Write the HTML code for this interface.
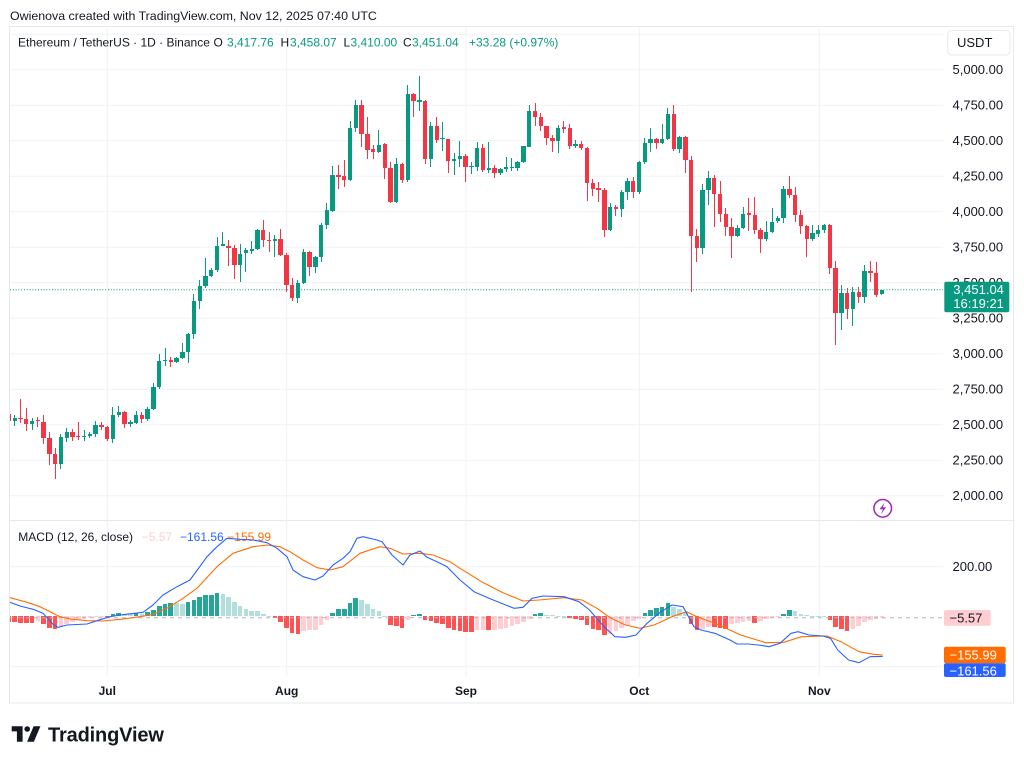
<!DOCTYPE html>
<html>
<head>
<meta charset="utf-8">
<style>
html,body{margin:0;padding:0;background:#fff;}
body{position:relative;width:1024px;height:763px;overflow:hidden;}
svg{display:block;font-family:"Liberation Sans",Arial,sans-serif;position:absolute;left:0;top:0;}
.clip{position:absolute;overflow:hidden;}
.row{position:absolute;top:0;display:flex;}
.row i{position:relative;flex:none;width:5.787px;height:100%;display:block;}
.cd i::before{content:"";position:absolute;left:calc(50% - 0.5px);width:1px;top:calc(var(--h)*1px);height:calc((var(--l) - var(--h))*1px);background:currentColor;}
.cd i::after{content:"";position:absolute;left:calc(50% - 2.2px);width:4.4px;top:calc(var(--t)*1px);height:max(1px,calc((var(--b) - var(--t))*1px));background:currentColor;}
.g{color:#089981}.r{color:#f23645}
.hs i::after{content:"";position:absolute;left:calc(50% - 2.3px);width:4.6px;top:calc(min(616.3, 616.3 - var(--v))*1px);height:calc(max(0.6, max(var(--v), -1 * var(--v)))*1px);background:currentColor;}
.D{color:#26a69a}.L{color:#b2dfdb}.R{color:#ff5252}.P{color:#ffcdd2}
</style>
</head>
<body>
<svg width="1024" height="763" viewBox="0 0 1024 763" xmlns="http://www.w3.org/2000/svg">
<rect width="1024" height="763" fill="#fff"/>
<text x="10" y="20" font-size="12.4" fill="#131722">Owienova created with TradingView.com, Nov 12, 2025 07:40 UTC</text>
<rect x="9.5" y="26.5" width="1004" height="676.5" fill="none" stroke="#e6e8ed"/>
<line x1="10" y1="520.5" x2="1013.5" y2="520.5" stroke="#e6e8ed"/>
<g stroke="#f1f2f5" stroke-width="1">
<line x1="10" x2="943" y1="34.2" y2="34.2"/>
<line x1="10" x2="943" y1="69.7" y2="69.7"/>
<line x1="10" x2="943" y1="105.2" y2="105.2"/>
<line x1="10" x2="943" y1="140.7" y2="140.7"/>
<line x1="10" x2="943" y1="176.2" y2="176.2"/>
<line x1="10" x2="943" y1="211.7" y2="211.7"/>
<line x1="10" x2="943" y1="247.2" y2="247.2"/>
<line x1="10" x2="943" y1="282.7" y2="282.7"/>
<line x1="10" x2="943" y1="318.2" y2="318.2"/>
<line x1="10" x2="943" y1="353.7" y2="353.7"/>
<line x1="10" x2="943" y1="389.2" y2="389.2"/>
<line x1="10" x2="943" y1="424.7" y2="424.7"/>
<line x1="10" x2="943" y1="460.2" y2="460.2"/>
<line x1="10" x2="943" y1="495.7" y2="495.7"/>
<line x1="10" x2="943" y1="566.7" y2="566.7"/>
<line x1="10" x2="943" y1="666.7" y2="666.7"/>
<line x1="107.3" x2="107.3" y1="27" y2="677"/>
<line x1="286.7" x2="286.7" y1="27" y2="677"/>
<line x1="466" x2="466" y1="27" y2="677"/>
<line x1="639.3" x2="639.3" y1="27" y2="677"/>
<line x1="819.3" x2="819.3" y1="27" y2="677"/>
</g>
<circle cx="882.7" cy="508.3" r="8.8" fill="#fff" stroke="#9c27b0" stroke-width="1.5"/>
<path d="M884.6,502.6 L879.6,509.2 H882.9 L881,514.2 L886,507.4 H882.7 Z" fill="#9c27b0"/>
<g font-size="12" fill="#131722">
<text x="18" y="46.5">Ethereum / TetherUS · 1D · Binance</text>
<text x="213.5" y="46.5">O</text>
<text x="227" y="46.5" fill="#089981">3,417.76</text>
<text x="280.5" y="46.5">H</text>
<text x="290" y="46.5" fill="#089981">3,458.07</text>
<text x="343.5" y="46.5">L</text>
<text x="350.5" y="46.5" fill="#089981">3,410.00</text>
<text x="403" y="46.5">C</text>
<text x="412" y="46.5" fill="#089981">3,451.04</text>
<text x="469" y="46.5" fill="#089981">+33.28 (+0.97%)</text>
</g>
<g font-size="12">
<text x="18.3" y="541" fill="#131722">MACD (12, 26, close)</text>
<text x="141.7" y="541" fill="#ffcdd2">−5.57</text>
<text x="180" y="541" fill="#2962ff">−161.56</text>
<text x="227.3" y="541" fill="#ff6d00">−155.99</text>
</g>
<rect x="947.7" y="30.5" width="62.3" height="24.5" rx="4" fill="#fff" stroke="#e6e8ed"/>
<text x="957" y="47" font-size="13" fill="#131722">USDT</text>
<g font-size="13" fill="#131722">
<text x="952.5" y="74.2">5,000.00</text>
<text x="952.5" y="109.7">4,750.00</text>
<text x="952.5" y="145.2">4,500.00</text>
<text x="952.5" y="180.7">4,250.00</text>
<text x="952.5" y="216.2">4,000.00</text>
<text x="952.5" y="251.7">3,750.00</text>
<text x="952.5" y="287.2">3,500.00</text>
<text x="952.5" y="322.7">3,250.00</text>
<text x="952.5" y="358.2">3,000.00</text>
<text x="952.5" y="393.7">2,750.00</text>
<text x="952.5" y="429.2">2,500.00</text>
<text x="952.5" y="464.7">2,250.00</text>
<text x="952.5" y="500.2">2,000.00</text>
<text x="952.5" y="571.2">200.00</text>
</g>
<rect x="944.3" y="281.7" width="65" height="30.6" rx="2" fill="#089981"/>
<text x="953.3" y="293.8" font-size="13" fill="#fff">3,451.04</text>
<text x="953.3" y="307.8" font-size="13" fill="#fff">16:19:21</text>
<rect x="944" y="610" width="46.7" height="15.7" rx="2" fill="#ffcdd2"/>
<text x="949.5" y="622.3" font-size="13" fill="#131722">−5.57</text>
<rect x="944" y="646.7" width="61.7" height="16.6" rx="2" fill="#ff6d00"/>
<text x="949.5" y="659.6" font-size="13" fill="#fff">−155.99</text>
<rect x="944" y="663.3" width="61.7" height="13.7" rx="2" fill="#2962ff"/>
<text x="949.5" y="675.5" font-size="13" fill="#fff">−161.56</text>
<g font-size="12" font-weight="bold" fill="#131722" text-anchor="middle">
<text x="107.3" y="695">Jul</text>
<text x="286.7" y="695">Aug</text>
<text x="466" y="695">Sep</text>
<text x="639.3" y="695">Oct</text>
<text x="819.3" y="695">Nov</text>
</g>
<path d="M11.7,726.2 H22.6 V741.8 H16.9 V731.4 H11.7 Z" fill="#131722"/>
<circle cx="27.2" cy="729" r="2.8" fill="#131722"/>
<path d="M33.6,726.2 H40.4 L33.9,741.8 H27.1 Z" fill="#131722"/>
<text x="48" y="741.5" font-size="20" font-weight="bold" letter-spacing="-0.15" fill="#131722">TradingView</text>
</svg>

<!-- candles -->
<div class="clip" style="left:10px;top:0;width:933px;height:520px;">
<div class="row cd" style="left:-3.973px;height:520px;">
<i class="r" style="--t:413.5;--b:421;--h:412;--l:423"></i>
<i class="g" style="--t:418.3;--b:420.7;--h:415;--l:426"></i>
<i class="r" style="--t:417.7;--b:418.7;--h:399;--l:422.7"></i>
<i class="r" style="--t:419;--b:424;--h:408;--l:431"></i>
<i class="g" style="--t:421;--b:423.7;--h:417.7;--l:430"></i>
<i class="r" style="--t:420;--b:421.3;--h:416.7;--l:426.7"></i>
<i class="r" style="--t:421.7;--b:438.3;--h:415.3;--l:443.7"></i>
<i class="r" style="--t:438;--b:454;--h:432.3;--l:465"></i>
<i class="r" style="--t:454;--b:464;--h:448.3;--l:479.3"></i>
<i class="g" style="--t:437.3;--b:464;--h:434;--l:469.3"></i>
<i class="g" style="--t:432.3;--b:437.7;--h:428.3;--l:442.3"></i>
<i class="r" style="--t:432.3;--b:436.7;--h:429.3;--l:440.7"></i>
<i class="r" style="--t:435.7;--b:437;--h:421.7;--l:440"></i>
<i class="g" style="--t:436;--b:437.3;--h:430;--l:441"></i>
<i class="g" style="--t:434;--b:436;--h:432.3;--l:438.3"></i>
<i class="g" style="--t:425;--b:434;--h:420.7;--l:437.3"></i>
<i class="r" style="--t:425;--b:427.3;--h:421.7;--l:430"></i>
<i class="r" style="--t:427.3;--b:439;--h:425.7;--l:440.7"></i>
<i class="g" style="--t:415;--b:439;--h:407.3;--l:442.7"></i>
<i class="g" style="--t:412;--b:415.3;--h:406;--l:417.3"></i>
<i class="r" style="--t:412;--b:423.7;--h:410.7;--l:428.3"></i>
<i class="g" style="--t:421.7;--b:423.7;--h:420;--l:426.7"></i>
<i class="g" style="--t:415;--b:422.7;--h:410.7;--l:424.3"></i>
<i class="r" style="--t:415;--b:419;--h:412.3;--l:422.7"></i>
<i class="g" style="--t:408.7;--b:419;--h:406.7;--l:421"></i>
<i class="g" style="--t:387.3;--b:408.7;--h:383.3;--l:410"></i>
<i class="g" style="--t:361;--b:387.3;--h:354.3;--l:389"></i>
<i class="g" style="--t:359.7;--b:361.3;--h:348.3;--l:365.7"></i>
<i class="r" style="--t:360;--b:362;--h:357.3;--l:367.3"></i>
<i class="g" style="--t:358;--b:362;--h:356.7;--l:362.7"></i>
<i class="g" style="--t:352.3;--b:358;--h:342.7;--l:359.3"></i>
<i class="g" style="--t:334.3;--b:352.3;--h:332.7;--l:363.3"></i>
<i class="g" style="--t:301.3;--b:334.3;--h:294;--l:339.3"></i>
<i class="g" style="--t:286.3;--b:301.3;--h:280;--l:309.3"></i>
<i class="g" style="--t:276.3;--b:286.3;--h:258;--l:288.3"></i>
<i class="g" style="--t:270;--b:276.3;--h:267.7;--l:277.3"></i>
<i class="g" style="--t:246.3;--b:270;--h:236.7;--l:271.7"></i>
<i class="g" style="--t:244.3;--b:245.7;--h:231.7;--l:245.7"></i>
<i class="r" style="--t:245.7;--b:247.7;--h:240.3;--l:266"></i>
<i class="r" style="--t:247.7;--b:264.7;--h:245.3;--l:279.3"></i>
<i class="g" style="--t:253.7;--b:264.7;--h:243.7;--l:282.3"></i>
<i class="g" style="--t:250.3;--b:253.3;--h:248.3;--l:271.7"></i>
<i class="g" style="--t:249;--b:250.7;--h:241.3;--l:254"></i>
<i class="g" style="--t:230;--b:249.3;--h:229.3;--l:250"></i>
<i class="r" style="--t:230;--b:240;--h:220.3;--l:246.7"></i>
<i class="r" style="--t:239.7;--b:241;--h:231.7;--l:251.7"></i>
<i class="g" style="--t:239.3;--b:241.3;--h:235;--l:257.3"></i>
<i class="r" style="--t:239;--b:255;--h:229.3;--l:255.7"></i>
<i class="r" style="--t:255;--b:285;--h:253.3;--l:291.7"></i>
<i class="r" style="--t:285;--b:297.7;--h:278.3;--l:301"></i>
<i class="g" style="--t:283.3;--b:297.7;--h:280;--l:303.3"></i>
<i class="g" style="--t:251.7;--b:283.3;--h:249;--l:284"></i>
<i class="r" style="--t:251.7;--b:267;--h:251;--l:275.7"></i>
<i class="g" style="--t:257.3;--b:267;--h:256;--l:273"></i>
<i class="g" style="--t:225;--b:257.3;--h:222.7;--l:261.7"></i>
<i class="g" style="--t:210.3;--b:225;--h:202.7;--l:228.7"></i>
<i class="g" style="--t:175;--b:210.7;--h:166;--l:211.7"></i>
<i class="r" style="--t:175;--b:176.7;--h:165;--l:189.3"></i>
<i class="r" style="--t:176;--b:180;--h:160;--l:187.3"></i>
<i class="g" style="--t:128.3;--b:180;--h:121;--l:180.7"></i>
<i class="g" style="--t:105;--b:128.3;--h:100;--l:131.7"></i>
<i class="r" style="--t:105;--b:134;--h:100;--l:147.3"></i>
<i class="r" style="--t:134;--b:150;--h:116.7;--l:159.3"></i>
<i class="r" style="--t:149.3;--b:151.7;--h:145;--l:159"></i>
<i class="g" style="--t:144.7;--b:151.7;--h:130;--l:153.3"></i>
<i class="r" style="--t:144.3;--b:167.7;--h:143.3;--l:179.3"></i>
<i class="r" style="--t:167.7;--b:201.7;--h:161.7;--l:202.7"></i>
<i class="g" style="--t:164.3;--b:201.7;--h:158.3;--l:203.3"></i>
<i class="r" style="--t:164.3;--b:180;--h:163.3;--l:182.7"></i>
<i class="g" style="--t:94;--b:180;--h:85;--l:181.7"></i>
<i class="r" style="--t:94;--b:101;--h:93.3;--l:117.3"></i>
<i class="g" style="--t:100.3;--b:101.7;--h:76;--l:110.7"></i>
<i class="r" style="--t:101.3;--b:158.7;--h:100;--l:164"></i>
<i class="g" style="--t:126.3;--b:158.7;--h:121.7;--l:167.3"></i>
<i class="r" style="--t:126.3;--b:140.3;--h:117.3;--l:143.3"></i>
<i class="g" style="--t:138.3;--b:139.3;--h:121.7;--l:150.7"></i>
<i class="r" style="--t:139;--b:160.7;--h:138.7;--l:173.3"></i>
<i class="g" style="--t:159;--b:160.7;--h:153.3;--l:175"></i>
<i class="g" style="--t:156.3;--b:159;--h:141;--l:166.7"></i>
<i class="r" style="--t:156.3;--b:167.3;--h:154;--l:181.7"></i>
<i class="g" style="--t:166;--b:167.3;--h:161.7;--l:174.3"></i>
<i class="g" style="--t:148;--b:166.7;--h:142;--l:171"></i>
<i class="r" style="--t:148;--b:170;--h:144;--l:171.7"></i>
<i class="g" style="--t:167.7;--b:169.7;--h:142;--l:173.3"></i>
<i class="r" style="--t:168;--b:173.3;--h:165;--l:178.3"></i>
<i class="g" style="--t:169;--b:173.3;--h:168.3;--l:175"></i>
<i class="g" style="--t:167.3;--b:168.7;--h:157.3;--l:171.7"></i>
<i class="g" style="--t:166.7;--b:168.3;--h:157.7;--l:171"></i>
<i class="g" style="--t:162.3;--b:167.7;--h:161;--l:171"></i>
<i class="g" style="--t:146.3;--b:162.3;--h:146;--l:162.7"></i>
<i class="g" style="--t:110.7;--b:146.7;--h:105;--l:147.3"></i>
<i class="r" style="--t:110.7;--b:116.7;--h:102.7;--l:126"></i>
<i class="r" style="--t:116.7;--b:126;--h:113.3;--l:130.7"></i>
<i class="r" style="--t:126;--b:137.7;--h:125.7;--l:145"></i>
<i class="r" style="--t:137.7;--b:141;--h:135;--l:151.7"></i>
<i class="g" style="--t:128;--b:141;--h:125;--l:153.3"></i>
<i class="r" style="--t:127.3;--b:128.7;--h:120.7;--l:133.3"></i>
<i class="r" style="--t:128;--b:145.7;--h:124;--l:149.3"></i>
<i class="g" style="--t:143.7;--b:145.7;--h:140;--l:148.3"></i>
<i class="r" style="--t:143.7;--b:148.3;--h:140.7;--l:150"></i>
<i class="r" style="--t:148.3;--b:183.3;--h:147.3;--l:200.7"></i>
<i class="r" style="--t:183.3;--b:189;--h:179;--l:195.7"></i>
<i class="r" style="--t:188.3;--b:190;--h:182.3;--l:201.7"></i>
<i class="r" style="--t:190;--b:230;--h:188.3;--l:237.5"></i>
<i class="g" style="--t:207.3;--b:230;--h:202.7;--l:230.7"></i>
<i class="r" style="--t:206.7;--b:209.3;--h:205;--l:216"></i>
<i class="g" style="--t:191.7;--b:209.3;--h:190;--l:216.7"></i>
<i class="g" style="--t:181.3;--b:191.7;--h:178.3;--l:200"></i>
<i class="r" style="--t:181.3;--b:191.7;--h:177.3;--l:198.3"></i>
<i class="g" style="--t:161.7;--b:191.7;--h:160.7;--l:194"></i>
<i class="g" style="--t:143.3;--b:162.3;--h:138.3;--l:164.3"></i>
<i class="g" style="--t:139.3;--b:143.3;--h:128.3;--l:151.7"></i>
<i class="r" style="--t:139.3;--b:142.7;--h:138.3;--l:149.3"></i>
<i class="g" style="--t:139;--b:143.3;--h:124;--l:144.3"></i>
<i class="g" style="--t:114.3;--b:139;--h:107.7;--l:140"></i>
<i class="r" style="--t:114.3;--b:149;--h:105;--l:150.7"></i>
<i class="g" style="--t:137.3;--b:149;--h:136;--l:152.7"></i>
<i class="r" style="--t:137.3;--b:160;--h:136;--l:173.3"></i>
<i class="r" style="--t:160;--b:236;--h:156;--l:291.7"></i>
<i class="r" style="--t:236;--b:247.7;--h:229.3;--l:261.7"></i>
<i class="g" style="--t:190;--b:247.7;--h:184;--l:254.3"></i>
<i class="g" style="--t:177.7;--b:190;--h:170.7;--l:205"></i>
<i class="r" style="--t:177.7;--b:194.3;--h:175;--l:227.3"></i>
<i class="r" style="--t:194.3;--b:214;--h:181;--l:221.7"></i>
<i class="r" style="--t:214;--b:226.7;--h:208.3;--l:236"></i>
<i class="r" style="--t:226.7;--b:236;--h:218.3;--l:257.7"></i>
<i class="g" style="--t:227.7;--b:236;--h:225;--l:237.3"></i>
<i class="g" style="--t:214.3;--b:227.7;--h:207.3;--l:229.3"></i>
<i class="r" style="--t:213.3;--b:215;--h:198.3;--l:230.7"></i>
<i class="r" style="--t:215;--b:230;--h:196.7;--l:234"></i>
<i class="r" style="--t:230;--b:239.3;--h:228.3;--l:252.7"></i>
<i class="g" style="--t:232.3;--b:239.3;--h:221;--l:240.7"></i>
<i class="g" style="--t:221.7;--b:232.3;--h:207.7;--l:233.3"></i>
<i class="g" style="--t:218.3;--b:221;--h:216;--l:223.3"></i>
<i class="g" style="--t:189;--b:218.3;--h:186;--l:222.7"></i>
<i class="r" style="--t:189;--b:195;--h:176;--l:198.3"></i>
<i class="r" style="--t:195;--b:215;--h:186.7;--l:221.7"></i>
<i class="r" style="--t:215;--b:225.7;--h:210;--l:234"></i>
<i class="r" style="--t:225.7;--b:239.3;--h:225;--l:256.7"></i>
<i class="g" style="--t:233.3;--b:239.3;--h:225;--l:240.7"></i>
<i class="g" style="--t:230;--b:234;--h:225;--l:236.7"></i>
<i class="g" style="--t:225;--b:230;--h:224.3;--l:233.3"></i>
<i class="r" style="--t:225;--b:267.7;--h:224.3;--l:274"></i>
<i class="r" style="--t:267.7;--b:313.3;--h:261;--l:345"></i>
<i class="g" style="--t:293.3;--b:313.3;--h:285;--l:330"></i>
<i class="r" style="--t:293.3;--b:309.3;--h:288.3;--l:319.3"></i>
<i class="g" style="--t:291.7;--b:309.3;--h:286.7;--l:326"></i>
<i class="r" style="--t:291.7;--b:297.3;--h:286.7;--l:303.3"></i>
<i class="g" style="--t:271;--b:297.3;--h:265;--l:302.7"></i>
<i class="r" style="--t:271;--b:273.3;--h:260.7;--l:281.7"></i>
<i class="r" style="--t:273.3;--b:295;--h:262.3;--l:296.7"></i>
<i class="g" style="--t:290;--b:294.3;--h:289.5;--l:295"></i>
</div>
</div>

<!-- MACD histogram -->
<div class="clip" style="left:10px;top:0;width:933px;height:677px;">
<div class="row hs" style="left:-3.973px;height:677px;">
<i class="R" style="--v:-5.7"></i>
<i class="R" style="--v:-6"></i>
<i class="R" style="--v:-6.3"></i>
<i class="R" style="--v:-6.7"></i>
<i class="R" style="--v:-6.8"></i>
<i class="P" style="--v:-4.7"></i>
<i class="R" style="--v:-8"></i>
<i class="R" style="--v:-11.3"></i>
<i class="R" style="--v:-12.7"></i>
<i class="P" style="--v:-9.3"></i>
<i class="P" style="--v:-8"></i>
<i class="P" style="--v:-5.7"></i>
<i class="P" style="--v:-4"></i>
<i class="P" style="--v:-2.7"></i>
<i class="P" style="--v:-1.7"></i>
<i class="P" style="--v:-1"></i>
<i class="P" style="--v:-0.5"></i>
<i class="R" style="--v:-0.7"></i>
<i class="D" style="--v:2"></i>
<i class="D" style="--v:3.3"></i>
<i class="L" style="--v:2.7"></i>
<i class="L" style="--v:2.6"></i>
<i class="D" style="--v:3.3"></i>
<i class="L" style="--v:2.3"></i>
<i class="D" style="--v:4"></i>
<i class="D" style="--v:6"></i>
<i class="D" style="--v:10.7"></i>
<i class="D" style="--v:12.7"></i>
<i class="D" style="--v:13"></i>
<i class="L" style="--v:12.9"></i>
<i class="L" style="--v:12.8"></i>
<i class="D" style="--v:14"></i>
<i class="D" style="--v:16"></i>
<i class="D" style="--v:19.3"></i>
<i class="D" style="--v:21"></i>
<i class="D" style="--v:21.2"></i>
<i class="D" style="--v:23.3"></i>
<i class="L" style="--v:22"></i>
<i class="L" style="--v:19.3"></i>
<i class="L" style="--v:14.3"></i>
<i class="L" style="--v:10"></i>
<i class="L" style="--v:7.7"></i>
<i class="L" style="--v:5.4"></i>
<i class="L" style="--v:5.3"></i>
<i class="L" style="--v:2.3"></i>
<i class="L" style="--v:0.3"></i>
<i class="R" style="--v:-1.7"></i>
<i class="R" style="--v:-5.7"></i>
<i class="R" style="--v:-11.3"></i>
<i class="R" style="--v:-16.7"></i>
<i class="R" style="--v:-18"></i>
<i class="P" style="--v:-14.7"></i>
<i class="P" style="--v:-14"></i>
<i class="P" style="--v:-13.3"></i>
<i class="P" style="--v:-8.3"></i>
<i class="P" style="--v:-4"></i>
<i class="D" style="--v:3.3"></i>
<i class="D" style="--v:7"></i>
<i class="D" style="--v:7.7"></i>
<i class="D" style="--v:13.3"></i>
<i class="D" style="--v:18"></i>
<i class="L" style="--v:16"></i>
<i class="L" style="--v:12"></i>
<i class="L" style="--v:7.7"></i>
<i class="L" style="--v:5.3"></i>
<i class="L" style="--v:0.3"></i>
<i class="R" style="--v:-8.3"></i>
<i class="R" style="--v:-9.7"></i>
<i class="R" style="--v:-11.3"></i>
<i class="P" style="--v:-3.3"></i>
<i class="D" style="--v:1"></i>
<i class="D" style="--v:2.7"></i>
<i class="R" style="--v:-3.3"></i>
<i class="R" style="--v:-4.7"></i>
<i class="R" style="--v:-6.7"></i>
<i class="R" style="--v:-8"></i>
<i class="R" style="--v:-11.3"></i>
<i class="R" style="--v:-13.3"></i>
<i class="R" style="--v:-14.5"></i>
<i class="R" style="--v:-15.3"></i>
<i class="R" style="--v:-15.7"></i>
<i class="P" style="--v:-14"></i>
<i class="P" style="--v:-13.8"></i>
<i class="R" style="--v:-14.2"></i>
<i class="P" style="--v:-13.3"></i>
<i class="P" style="--v:-12.3"></i>
<i class="P" style="--v:-11.3"></i>
<i class="P" style="--v:-10"></i>
<i class="P" style="--v:-8"></i>
<i class="P" style="--v:-5.7"></i>
<i class="P" style="--v:-2.3"></i>
<i class="D" style="--v:2.7"></i>
<i class="D" style="--v:3.7"></i>
<i class="L" style="--v:1.7"></i>
<i class="L" style="--v:1"></i>
<i class="L" style="--v:0.7"></i>
<i class="L" style="--v:0.3"></i>
<i class="R" style="--v:-1.7"></i>
<i class="R" style="--v:-2.3"></i>
<i class="R" style="--v:-4"></i>
<i class="R" style="--v:-9"></i>
<i class="R" style="--v:-12.3"></i>
<i class="R" style="--v:-14"></i>
<i class="R" style="--v:-19"></i>
<i class="P" style="--v:-17.3"></i>
<i class="P" style="--v:-14.7"></i>
<i class="P" style="--v:-11.3"></i>
<i class="P" style="--v:-9"></i>
<i class="P" style="--v:-5"></i>
<i class="P" style="--v:-2.7"></i>
<i class="D" style="--v:3.3"></i>
<i class="D" style="--v:6.7"></i>
<i class="D" style="--v:8.7"></i>
<i class="D" style="--v:9.3"></i>
<i class="D" style="--v:13.3"></i>
<i class="L" style="--v:9.3"></i>
<i class="L" style="--v:7.7"></i>
<i class="L" style="--v:4.3"></i>
<i class="R" style="--v:-7.3"></i>
<i class="R" style="--v:-14"></i>
<i class="P" style="--v:-12.3"></i>
<i class="P" style="--v:-10.7"></i>
<i class="R" style="--v:-11"></i>
<i class="R" style="--v:-11.3"></i>
<i class="R" style="--v:-12.3"></i>
<i class="P" style="--v:-7.3"></i>
<i class="P" style="--v:-7.2"></i>
<i class="P" style="--v:-5.7"></i>
<i class="P" style="--v:-5"></i>
<i class="R" style="--v:-6.7"></i>
<i class="P" style="--v:-4.5"></i>
<i class="P" style="--v:-2.7"></i>
<i class="P" style="--v:-1.7"></i>
<i class="P" style="--v:-0.7"></i>
<i class="D" style="--v:2.7"></i>
<i class="D" style="--v:6"></i>
<i class="L" style="--v:5"></i>
<i class="L" style="--v:2.7"></i>
<i class="L" style="--v:1"></i>
<i class="L" style="--v:0.3"></i>
<i class="L" style="--v:0.2"></i>
<i class="L" style="--v:0.1"></i>
<i class="R" style="--v:-3.3"></i>
<i class="R" style="--v:-10.7"></i>
<i class="R" style="--v:-12.3"></i>
<i class="R" style="--v:-15"></i>
<i class="P" style="--v:-13"></i>
<i class="P" style="--v:-10"></i>
<i class="P" style="--v:-5.7"></i>
<i class="P" style="--v:-4"></i>
<i class="P" style="--v:-2.7"></i>
<i class="P" style="--v:-1.4"></i>
</div>
</div>

<!-- overlay lines -->
<svg width="1024" height="763" viewBox="0 0 1024 763" xmlns="http://www.w3.org/2000/svg">
<defs>
<clipPath id="cp"><rect x="10" y="27" width="933" height="493.5"/></clipPath>
<clipPath id="cm"><rect x="10" y="521" width="933" height="156"/></clipPath>
</defs>
<g clip-path="url(#cp)">
<line x1="10" x2="943" y1="289.7" y2="289.7" stroke="#089981" stroke-width="1" stroke-dasharray="1,1.8"/>
</g>
<g clip-path="url(#cm)">
<line x1="10" x2="943" y1="617.7" y2="617.7" stroke="#b2b5be" stroke-width="1" stroke-dasharray="4,4"/>
<polyline fill="none" stroke="#ff6d00" stroke-width="1.1" stroke-linejoin="round" points="10,597.7 27,602.3 40,606.7 50,611.7 60,616.7 70,619 87,620.7 103,621 120,619.3 140,616.7 153,614.3 167,608.3 183,598.3 197,588.3 217,566.7 233,553.3 253,546.7 267,545 280,546.7 290,551.7 303,560 317,567.7 330,570 343,566.7 360,553.3 380,546.7 390,548.3 403,554 420,553.3 433,555 450,561.7 460,568.3 481.6,581.7 503,592.7 523,601 539,600 564,597.7 582,600 597,608.3 611,618.3 625.5,625 640,628.3 654,625 672,616.7 686.6,611.7 697,616.7 719,625 740.6,635 765.8,642.7 783.7,642.3 801.7,636.7 827,636 841,641.7 859,651.7 873.7,654.3 882.7,655"/>
<polyline fill="none" stroke="#2962ff" stroke-width="1.1" stroke-linejoin="round" points="10,602.3 20,606 33,609.3 43,613.3 53,624.3 58,627.3 67,625 87,624 100,619.7 110,616.7 120,615 143,612.3 153,605 163,595 177,586.7 190,580 207,556.7 217,546.7 227,538.3 240,539.3 253,540 267,542.7 277,548.3 287,556.7 293,570 303,576.7 315,580 323,576 333,565 343,558.3 350,551.7 357,538.3 363,536.7 377,540 382,541.7 392,555 403,565 410,555 420,551 427,557.3 437,561.7 447,566.7 460,580 474,591.7 489,598.3 514,608.3 523,607.3 532,598.3 543,596 564,596.7 579,601.7 589.5,610 604,626.7 615,636.7 625.5,637.3 636,635 647,623.3 661,611.7 672,605 683,606.7 694,626.7 701,630 715,633.3 730,640 737,644 748,644 758.5,645 769,646.7 780,643.3 791,633.3 798,631.7 809,635 823,636 830.5,638.3 837.7,650 848.5,660 859,662.7 870,656.7 882.7,656.4"/>
</g>
</svg>
</body>
</html>
